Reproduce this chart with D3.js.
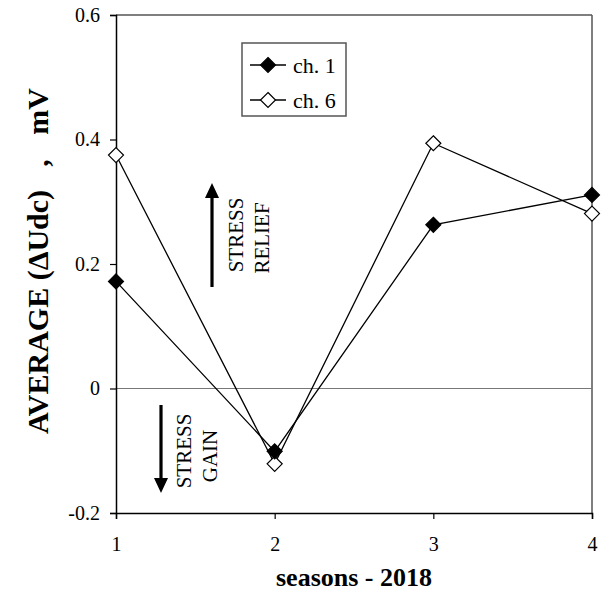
<!DOCTYPE html>
<html><head><meta charset="utf-8">
<script src="https://cdn.jsdelivr.net/npm/d3@7"></script>
<style>
html,body{margin:0;padding:0;background:#fff;}
svg{display:block;font-family:"Liberation Serif","Times New Roman",serif;}
svg text{font-family:"Liberation Serif","Times New Roman",serif;}
</style></head>
<body>
<svg id="chart" width="602" height="595"></svg>
<script>
const seasons = [1, 2, 3, 4];
const ch1 = [0.172, -0.101, 0.263, 0.311];
const ch6 = [0.375, -0.121, 0.394, 0.281];
const yTicks = [-0.2, 0, 0.2, 0.4, 0.6];
const yTickLabels = ["-0.2", "0", "0.2", "0.4", "0.6"];
const seriesNames = ["ch. 1", "ch. 6"];

const svg = d3.select("#chart");
const x = d3.scaleLinear().domain([1, 4]).range([116, 592]);
const y = d3.scaleLinear().domain([-0.2, 0.6]).range([513, 15]);

// frame: top & right (gray)
svg.append("line").attr("x1", x(1)).attr("x2", x(4)).attr("y1", y(0.6)).attr("y2", y(0.6))
  .attr("stroke", "#555").attr("stroke-width", 1.5);
svg.append("line").attr("x1", x(4)).attr("x2", x(4)).attr("y1", y(0.6)).attr("y2", y(-0.2))
  .attr("stroke", "#555").attr("stroke-width", 1.5);
// zero line
svg.append("line").attr("x1", x(1)).attr("x2", x(4)).attr("y1", y(0)).attr("y2", y(0))
  .attr("stroke", "#777").attr("stroke-width", 1.2);

// axes
const yAxis = d3.axisLeft(y).tickValues(yTicks).tickSize(6).tickPadding(10)
  .tickFormat((d, i) => yTickLabels[i]);
const gy = svg.append("g").attr("transform", `translate(${x(1)},0)`).call(yAxis);
const xAxis = d3.axisBottom(x).tickValues(seasons).tickSize(6).tickPadding(18)
  .tickFormat(d3.format("d"));
const gx = svg.append("g").attr("transform", `translate(0,${y(-0.2)})`).call(xAxis);
[gx, gy].forEach(g => {
  g.attr("font-family", null);
  g.select(".domain").attr("stroke", "#000").attr("stroke-width", 1.5);
  g.selectAll(".tick line").attr("stroke", "#000").attr("stroke-width", 1.2);
  g.selectAll("text").attr("font-size", 20).attr("fill", "#000");
});

// axis titles
svg.append("text").attr("x", 354).attr("y", 586).attr("text-anchor", "middle")
  .attr("font-size", 26).attr("font-weight", "bold").text("seasons - 2018");
const yt = svg.append("g").attr("font-size", 30).attr("font-weight", "bold");
yt.append("text").attr("transform", "translate(48,434) rotate(-90)").attr("text-anchor", "start")
  .text("AVERAGE (ΔUdc)");
yt.append("text").attr("transform", "translate(48,163) rotate(-90)").attr("text-anchor", "middle")
  .text(",");
yt.append("text").attr("transform", "translate(48,88) rotate(-90)").attr("text-anchor", "end")
  .text("mV");

// series
const line = d3.line().x((d, i) => x(seasons[i])).y(d => y(d));
const diamond = (cx, cy, r) => `M${cx},${cy - r}L${cx + r},${cy}L${cx},${cy + r}L${cx - r},${cy}Z`;
[ch6, ch1].forEach(vals => {
  svg.append("path").attr("d", line(vals)).attr("fill", "none").attr("stroke", "#000").attr("stroke-width", 1.3);
});
[[ch6, "#fff"], [ch1, "#000"]].forEach(([vals, fill]) => {
  svg.selectAll(null).data(vals).enter().append("path")
    .attr("d", (d, i) => diamond(x(seasons[i]), y(d), 7.5))
    .attr("fill", fill).attr("stroke", "#000").attr("stroke-width", 1.2);
});

// legend
const lg = svg.append("g");
lg.append("rect").attr("x", 242).attr("y", 43).attr("width", 104).attr("height", 73)
  .attr("fill", "#fff").attr("stroke", "#555").attr("stroke-width", 1.5);
[["#000", 65], ["#fff", 100]].forEach(([fill, ly], i) => {
  lg.append("line").attr("x1", 250).attr("x2", 286).attr("y1", ly).attr("y2", ly).attr("stroke", "#000").attr("stroke-width", 1.3);
  lg.append("path").attr("d", diamond(268, ly, 7.5)).attr("fill", fill).attr("stroke", "#000").attr("stroke-width", 1.2);
  lg.append("text").attr("x", 293).attr("y", ly).attr("dy", "0.35em").attr("font-size", 22).text(seriesNames[i]);
});

// arrows
function arrow(xp, y0, y1) { // from y0 (tail) to y1 (tip)
  const dir = y1 < y0 ? -1 : 1;
  const headLen = 15, headW = 7;
  svg.append("line").attr("x1", xp).attr("x2", xp).attr("y1", y0).attr("y2", y1 - dir * headLen)
    .attr("stroke", "#000").attr("stroke-width", 3.2);
  svg.append("path").attr("d", `M${xp},${y1}L${xp + headW},${y1 - dir * headLen}L${xp - headW},${y1 - dir * headLen}Z`).attr("fill", "#000");
}
arrow(212, 287, 183);
arrow(161, 405, 493);
const vtext = (tx, ty, t) => svg.append("text").attr("transform", `translate(${tx},${ty}) rotate(-90)`)
  .attr("text-anchor", "middle").attr("dy", "0.35em").attr("font-size", 21).text(t);
vtext(236, 235, "STRESS");
vtext(262, 238, "RELIEF");
vtext(184, 451, "STRESS");
vtext(210, 456, "GAIN");
</script>
</body></html>
